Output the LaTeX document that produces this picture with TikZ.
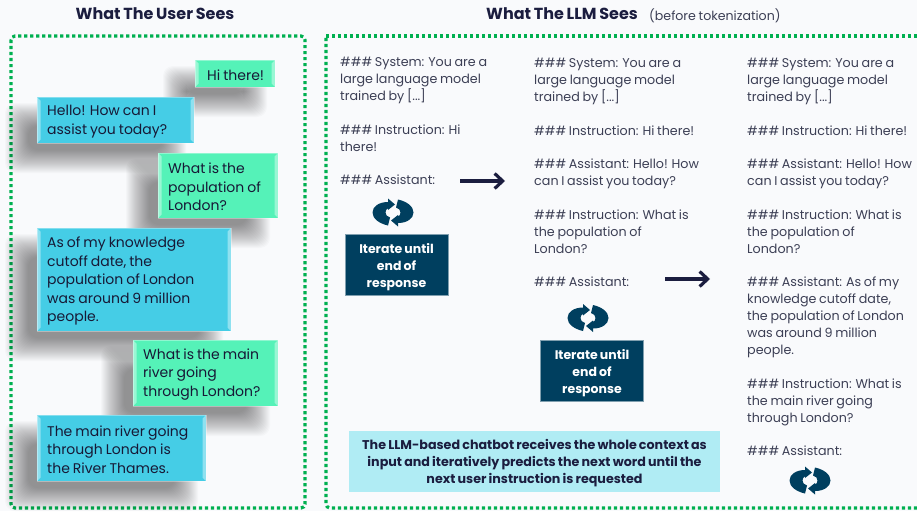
\documentclass[tikz,border=0pt]{standalone}
\usepackage{fontspec}
\setmainfont[WordSpace=0.8]{Poppins}
\usepackage{xcolor}
\usetikzlibrary{arrows.meta,calc}
\definecolor{pagebg}{HTML}{F9FAFC}
\definecolor{framegreen}{HTML}{00B050}
\definecolor{inkdark}{HTML}{1B1D3F}
\definecolor{inkgrey}{HTML}{3C3F55}
\definecolor{bubblemint}{HTML}{55F2B8}
\definecolor{bubblesky}{HTML}{45CDE6}
\definecolor{deepteal}{HTML}{003F5F}
\definecolor{notecyan}{HTML}{B0ECF4}
\tikzset{
  dotframe/.style={draw=framegreen,line width=3.2pt,dash pattern=on 3.2pt off 2.8pt,rounded corners=4pt},
  heading/.style={font=\fontsize{16}{18}\selectfont\bfseries,text=inkdark,inner sep=0pt},
  column/.style={font=\fontsize{12.7}{17}\selectfont,text=inkgrey,align=left,anchor=north west,inner sep=0pt},
  bubbletext/.style={font=\fontsize{14}{18.5}\selectfont,text=inkdark!85!black,align=left,anchor=west,inner sep=0pt},
  iterbox/.style={fill=deepteal,draw=deepteal!50!white,line width=0.5pt,text=white,align=center,
    minimum width=103pt,minimum height=61pt,inner sep=0pt,font=\fontsize{12.5}{17}\selectfont\bfseries},
  notebox/.style={fill=notecyan,text=inkdark,align=center,minimum width=371pt,minimum height=61pt,inner sep=0pt,
    font=\fontsize{12.7}{17}\selectfont\bfseries},
  flowarrow/.style={draw=inkdark,line width=3.2pt,-{Straight Barb[length=8pt,width=15pt,line width=3.2pt]}},
  cycleicon/.pic={
    \foreach \r in {0,180}{
      \fill[deepteal,rotate=\r] (-5,-10.5) .. controls (-14,-10.5) and (-20.5,-6) .. (-20.5,0)
        .. controls (-20.5,6) and (-14,11) .. (-5,13) -- (-3,5)
        .. controls (-6,4.5) and (-7.5,2) .. (-7.5,0) .. controls (-7.5,-2) and (-6.5,-3.5) .. (-5,-4)
        -- (-5,-2.5) -- (2,-8) -- (-5,-14) -- cycle;
    }
  }
}
% bubble: name, x0, y0, x1, y1, fill colour, text
\newcommand{\chatbubble}[7]{
  \foreach \k in {0,...,23}
    \fill[black,opacity=0.019,rounded corners=10pt]
      ({#2-20-12+\k},{#3+18-12+\k}) rectangle ({#4-20+12-\k},{#5+18+12-\k});
  \fill[#6] (#2,#3) rectangle (#4,#5);
  \fill[white,opacity=0.4] (#2,#3) -- (#2+3.5,#3+3.5) -- (#2+3.5,#5-3.5) -- (#2,#5) -- cycle;
  \fill[white,opacity=0.4] (#4,#3) -- (#4-3.5,#3+3.5) -- (#4-3.5,#5-3.5) -- (#4,#5) -- cycle;
  \draw[white,opacity=0.35,line width=0.8pt] (#2,#3) rectangle (#4,#5);
  \node[bubbletext] (#1) at ({#2+10},{(#3+#5)/2+1.5}) {#7};
}
\begin{document}
\begin{tikzpicture}[x=1pt,y=-1pt]
  \useasboundingbox (0,0) rectangle (917,511);
  \fill[pagebg] (0,0) rectangle (917,511);

  \node[heading] (usertitle) at (155,14) {What The User Sees};
  \node[heading,anchor=west] (llmtitle) at (486,14) {What The LLM Sees};
  \node[font=\fontsize{12.6}{14}\selectfont,text=inkgrey,anchor=west,inner sep=0pt] (llmnote) at (649,16) {(before tokenization)};

  \draw[dotframe] (11,36) rectangle (305,508);
  \draw[dotframe] (326,36) -- (917,36);
  \draw[dotframe] (917,508) -- (326,508) -- (326,36);

  % user side
  \chatbubble{hithere}{195}{60}{275}{87}{bubblemint}{\hspace*{2pt}Hi there!}
  \chatbubble{hello}{37}{97}{194}{143}{bubblesky}{Hello! How can I\\assist you today?}
  \chatbubble{population}{158}{153}{278}{218}{bubblemint}{What is the\\population of\\London?}
  \chatbubble{cutoff}{37}{228}{231}{331}{bubblesky}{As of my knowledge\\cutoff date, the\\population of London\\was around 9 million\\people.}
  \chatbubble{river}{133}{340}{278}{406}{bubblemint}{What is the main\\river going\\through London?}
  \chatbubble{thames}{37}{415}{206}{481}{bubblesky}{The main river going\\through London is\\the River Thames.}

  % llm side
  \node[column] (colone) at (340,57) {\#\#\# System: You are a\\large language model\\trained by [...]\\[16.5pt]
    \#\#\# Instruction: Hi\\there!\\[16.5pt]
    \#\#\# Assistant:};
  \node[column] (coltwo) at (534,58) {\#\#\# System: You are a\\large language model\\trained by [...]\\[16.5pt]
    \#\#\# Instruction: Hi there!\\[16.5pt]
    \#\#\# Assistant: Hello! How\\can I assist you today?\\[16.5pt]
    \#\#\# Instruction: What is\\the population of\\London?\\[16.5pt]
    \#\#\# Assistant:};
  \node[column] (colthree) at (747,58) {\#\#\# System: You are a\\large language model\\trained by [...]\\[16.5pt]
    \#\#\# Instruction: Hi there!\\[16.5pt]
    \#\#\# Assistant: Hello! How\\can I assist you today?\\[16.5pt]
    \#\#\# Instruction: What is\\the population of\\London?\\[16.5pt]
    \#\#\# Assistant: As of my\\knowledge cutoff date,\\the population of London\\was around 9 million\\people.\\[16.5pt]
    \#\#\# Instruction: What is\\the main river going\\through London?\\[16.5pt]
    \#\#\# Assistant:};

  \pic (cycleone) at (393,212.5) {cycleicon};
  \pic (cycletwo) at (588,318) {cycleicon};
  \pic (cyclethree) at (810,480.5) {cycleicon};

  \node[iterbox] (iterone) at (396.5,265) {\rule{0pt}{15pt}Iterate until\\end of\\response};
  \node[iterbox] (itertwo) at (592,371) {\rule{0pt}{15pt}Iterate until\\end of\\response};

  \coordinate (arrowonestart) at (460,181);
  \coordinate (arrowoneend) at (505,181);
  \coordinate (arrowtwostart) at (665,279);
  \coordinate (arrowtwoend) at (710,279);
  \draw[flowarrow] (arrowonestart) -- (arrowoneend);
  \draw[flowarrow] (arrowtwostart) -- (arrowtwoend);

  \node[notebox] (contextnote) at (534.5,461) {\rule{0pt}{14pt}The LLM-based chatbot receives the whole context as\\input and iteratively predicts the next word until the\\next user instruction is requested};
\end{tikzpicture}
\end{document}
